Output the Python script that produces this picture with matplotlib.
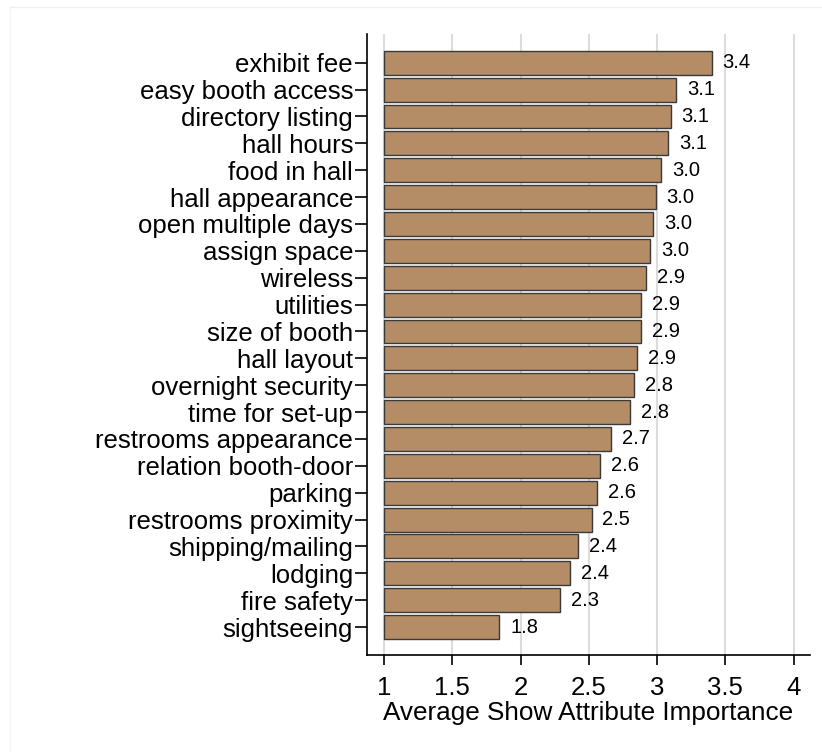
import numpy as np
import matplotlib.pyplot as plt
from matplotlib.lines import Line2D

plt.rcParams['font.family'] = ['Liberation Sans', 'DejaVu Sans']

attributes = ['exhibit fee', 'easy booth access', 'directory listing', 'hall hours',
              'food in hall', 'hall appearance', 'open multiple days', 'assign space',
              'wireless', 'utilities', 'size of booth', 'hall layout',
              'overnight security', 'time for set-up', 'restrooms appearance',
              'relation booth-door', 'parking', 'restrooms proximity',
              'shipping/mailing', 'lodging', 'fire safety', 'sightseeing']
importance = [3.40, 3.14, 3.10, 3.08, 3.03, 2.99, 2.97, 2.95, 2.92, 2.88, 2.88,
              2.85, 2.83, 2.80, 2.66, 2.58, 2.56, 2.52, 2.42, 2.36, 2.29, 1.845]
xticks = [1, 1.5, 2, 2.5, 3, 3.5, 4]
xlabels = ['1', '1.5', '2', '2.5', '3', '3.5', '4']

fig = plt.figure(figsize=(8.22, 7.52), dpi=100)
ax = fig.add_axes([367/822, 1 - 655/752, (810 - 367)/822, (655 - 34)/752])

# faint outer frame (top and left) like the stata graph region
fig.lines.append(Line2D([10/822, 1], [1 - 7/752, 1 - 7/752], transform=fig.transFigure,
                        color='#efefef', linewidth=1))
fig.lines.append(Line2D([10/822, 10/822], [0, 1 - 7/752], transform=fig.transFigure,
                        color='#f4f4f4', linewidth=1))

y = np.arange(len(attributes))
vals = np.array(importance)
ax.barh(y, vals - 1, left=1, height=0.89, color='#b48c66', edgecolor='#3a3a3a',
        linewidth=1, zorder=3)
for yi, v in zip(y, vals):
    ax.text(v + 0.08, yi, f'{v:.1f}', va='center', ha='left', fontsize=14.5, zorder=4)

ax.set_xlim(0.875, 4.12)
ax.set_ylim(len(attributes) - 1 + 1.04, -1.07)
ax.set_yticks(y)
ax.set_yticklabels(attributes, fontsize=18.5)
ax.set_xticks(xticks)
ax.set_xticklabels(xlabels, fontsize=18.5)
ax.set_xlabel('Average Show Attribute Importance', fontsize=18.8, labelpad=1)

ax.grid(axis='x', color='#dcdcdc', linewidth=1.5, zorder=0)
ax.spines['top'].set_visible(False)
ax.spines['right'].set_visible(False)
ax.spines['left'].set_linewidth(1.2)
ax.spines['bottom'].set_linewidth(1.2)
ax.tick_params(axis='y', length=9, width=1.2, pad=1)
ax.tick_params(axis='x', length=7.5, width=1.2, pad=7.5)

plt.savefig('out.png', dpi=100)
